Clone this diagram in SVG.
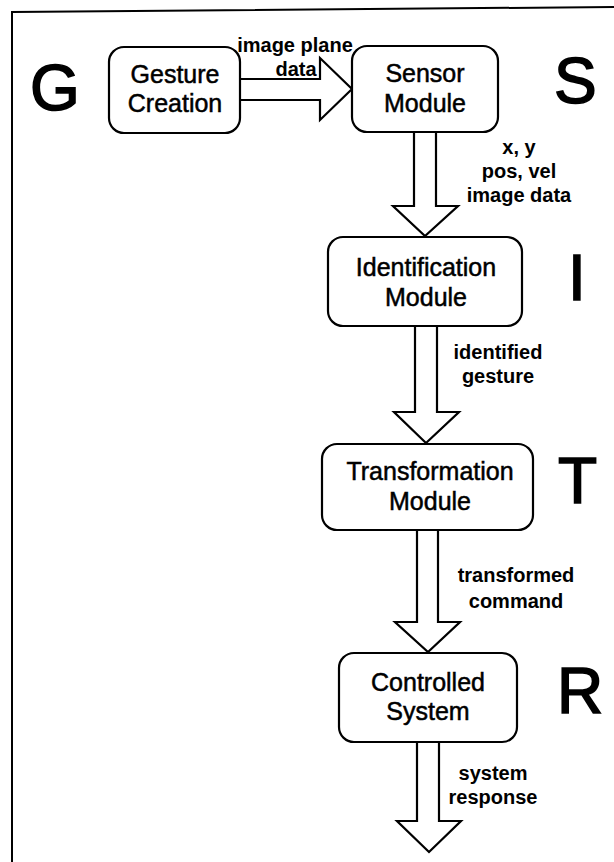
<svg xmlns="http://www.w3.org/2000/svg" width="614" height="862" viewBox="0 0 614 862">
<style>
.frame{fill:none;stroke:#000;stroke-width:2}
.box{fill:#fff;stroke:#000;stroke-width:2.2}
.arrow{fill:#fff;stroke:#000;stroke-width:2.2;stroke-linejoin:miter}
.nt{font-family:"Liberation Sans",Arial,sans-serif;font-size:25px;fill:#000;text-anchor:middle;stroke:#000;stroke-width:0.5}
.lb{font-family:"Liberation Sans",Arial,sans-serif;font-size:20px;font-weight:bold;fill:#000;text-anchor:middle}
.big{font-family:"Liberation Sans",Arial,sans-serif;font-size:64px;fill:#000;stroke:#000;stroke-width:1.6}
</style>
<rect width="614" height="862" fill="#fff"/>
<path class="frame" d="M12,862 V12 L614,7"/>
<g id="connectors">
<path class="arrow" d="M240,79 H320 V58 L352,89 L320,120 V100 H240"/>
<path class="arrow" d="M414,132 V206 H393 L425,236 L458,206 H436 V132"/>
<path class="arrow" d="M415,326 V412 H394 L426,443 L459,412 H437 V326"/>
<path class="arrow" d="M417,530 V622 H395 L428,652 L460,622 H438 V530"/>
<path class="arrow" d="M417,742 V821 H397 L429,852 L461,821 H439 V742"/>
<text class="lb" x="295" y="52">image plane</text>
<text class="lb" x="296" y="76">data</text>
<text class="lb" x="519" y="154">x, y</text>
<text class="lb" x="519" y="178">pos, vel</text>
<text class="lb" x="519" y="202">image data</text>
<text class="lb" x="498" y="359">identified</text>
<text class="lb" x="498" y="383">gesture</text>
<text class="lb" x="516" y="582">transformed</text>
<text class="lb" x="516" y="608">command</text>
<text class="lb" x="493" y="780">system</text>
<text class="lb" x="493" y="804">response</text>
</g>
<g id="gesture">
<rect class="box" x="109" y="47" width="131" height="86" rx="15"/>
<text class="nt" x="175" y="83">Gesture</text>
<text class="nt" x="175" y="112">Creation</text>
</g>
<g id="sensor">
<rect class="box" x="352" y="46" width="146" height="86" rx="15"/>
<text class="nt" x="425" y="82">Sensor</text>
<text class="nt" x="425" y="112">Module</text>
</g>
<g id="identification">
<rect class="box" x="328" y="237" width="194" height="89" rx="15"/>
<text class="nt" x="426" y="276">Identification</text>
<text class="nt" x="426" y="306">Module</text>
</g>
<g id="transformation">
<rect class="box" x="322" y="444" width="211" height="86" rx="15"/>
<text class="nt" x="430" y="480">Transformation</text>
<text class="nt" x="430" y="510">Module</text>
</g>
<g id="controlled">
<rect class="box" x="339" y="653" width="178" height="89" rx="15"/>
<text class="nt" x="428" y="691">Controlled</text>
<text class="nt" x="428" y="720">System</text>
</g>
<g id="letters">
<text class="big" x="30" y="110">G</text>
<text class="big" x="554" y="103">S</text>
<text class="big" x="568" y="300">I</text>
<text class="big" x="558" y="503">T</text>
<text class="big" x="557" y="713">R</text>
</g>
</svg>
